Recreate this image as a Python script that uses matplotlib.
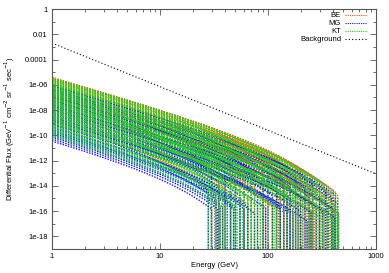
# Differential flux curves for three models plus the background power law
import numpy as np
import matplotlib.pyplot as plt
from matplotlib.ticker import FixedLocator, NullFormatter

plt.rcParams['font.family'] = ['Liberation Sans', 'DejaVu Sans']

# cut-off energy (GeV) and log10 of the flux at 1 GeV for every curve
be_mass = [150, 200, 120, 250, 90, 300, 180, 60, 350, 220,
           130, 400, 75, 280, 160, 440, 45, 240, 110, 380,
           190, 35, 320, 140, 420, 85, 260, 55, 390, 170,
           230, 100, 415, 30, 300, 65, 210, 360, 125, 40,
           270, 445, 150, 50, 330, 95, 250, 38, 395, 180,
           70, 110, 32, 140, 60]
be_lognorm = [-5.4, -5.45, -5.5, -5.5, -5.6, -5.7, -5.65, -5.8, -5.9, -5.85,
              -5.95, -6.1, -6.05, -6.15, -6.2, -6.35, -6.3, -6.4, -6.45, -6.5,
              -6.55, -6.6, -6.65, -6.7, -6.75, -6.8, -6.85, -6.9, -6.95, -7.0,
              -7.1, -7.15, -7.2, -7.25, -7.3, -7.4, -7.45, -7.5, -7.6, -7.7,
              -7.75, -7.8, -7.9, -8.0, -8.05, -8.15, -8.25, -8.35, -8.45, -8.55,
              -8.65, -8.8, -8.9, -9.0, -9.1]

mg_mass = [180, 260, 100, 340, 140, 420, 70, 220, 390, 50,
           160, 300, 120, 440, 40, 240, 360, 90, 200, 30,
           400, 150, 280, 60, 450, 110, 320, 45, 190, 415,
           80, 250, 35, 200, 130, 55, 130, 170, 160, 28,
           95, 230, 42, 55, 65, 45, 33, 60, 75, 50,
           48, 38, 36, 34, 30]
mg_lognorm = [-6.0, -6.1, -6.2, -6.3, -6.35, -6.45, -6.5, -6.6, -6.7, -6.75,
              -6.85, -6.9, -7.0, -7.05, -7.15, -7.2, -7.3, -7.35, -7.45, -7.5,
              -7.6, -7.65, -7.75, -7.8, -7.9, -7.95, -8.05, -8.1, -8.2, -8.25,
              -8.35, -8.4, -8.5, -8.55, -8.65, -8.7, -8.8, -8.85, -8.95, -9.0,
              -9.1, -9.15, -9.25, -9.3, -9.4, -9.5, -9.55, -9.65, -9.75, -9.8,
              -9.9, -10.0, -10.1, -10.25, -10.4]

kt_mass = [170, 230, 110, 280, 140, 70, 330, 200, 50, 420,
           120, 260, 90, 370, 35, 180, 445, 60, 310, 150,
           28, 400, 100, 240, 45, 350, 130, 435, 75, 210,
           38, 290, 160, 450, 55, 390, 85, 250, 30, 190,
           410, 65, 320, 115, 42, 120, 90, 80, 33, 70,
           58, 48, 52, 40, 36]
kt_lognorm = [-5.45, -5.55, -5.6, -5.7, -5.75, -5.85, -5.95, -6.0, -6.1, -6.2,
              -6.25, -6.3, -6.4, -6.45, -6.5, -6.6, -6.65, -6.7, -6.8, -6.85,
              -6.95, -7.0, -7.1, -7.15, -7.25, -7.3, -7.4, -7.45, -7.5, -7.6,
              -7.7, -7.75, -7.85, -7.9, -8.0, -8.1, -8.15, -8.25, -8.35, -8.4,
              -8.5, -8.6, -8.65, -8.75, -8.85, -8.95, -9.0, -9.1, -9.2, -9.3,
              -9.45, -9.55, -9.7, -9.85, -10.0]

spec_index = 2.5
cut_scale = 4.0

bg_norm = 2.0e-3
bg_index = 3.45

be_color = "#ff4a10"
mg_color = "#1010ff"
kt_color = "#10e010"

models = [(be_lognorm, be_mass, be_color),
          (mg_lognorm, mg_mass, mg_color),
          (kt_lognorm, kt_mass, kt_color)]

energy = np.logspace(0, 3, 500)

fig = plt.figure(figsize=(3.89, 2.73), dpi=100)
ax = fig.add_axes([0.1337, 0.0879, 0.8329, 0.8791])

dot = (0, (1, 1.0))
for lognorm, mass, col in models:
    for ln, m in zip(lognorm, mass):
        e = np.append(energy[energy < m], [m, m])
        f = 10 ** ln * e ** -spec_index * np.exp(-cut_scale * e / m)
        f[-1] = 1e-30  # spectrum ends at the cut-off: drop off the bottom
        ax.plot(e, f, color=col, lw=1.0, ls=dot)

ax.plot(energy, bg_norm * energy ** -bg_index, color='black', lw=0.8, ls=(0, (1, 2)))

ax.set_xscale('log')
ax.set_yscale('log')
ax.set_xlim(1, 1000)
ax.set_ylim(1e-19, 1)

ax.yaxis.set_major_locator(FixedLocator([10.0 ** -k for k in range(0, 19, 2)]))
ax.yaxis.set_minor_locator(FixedLocator([10.0 ** -k for k in range(1, 19, 2)]))
ax.yaxis.set_minor_formatter(NullFormatter())
ax.set_yticklabels(['1', '0.01', '0.0001'] + ['1e-%02d' % k for k in range(6, 19, 2)])
ax.set_xticks([1, 10, 100, 1000])
ax.set_xticklabels(['1', '10', '100', '1000'])
ax.xaxis.set_minor_locator(FixedLocator([d * 10.0 ** p for p in range(3) for d in range(2, 10)]))
ax.xaxis.set_minor_formatter(NullFormatter())

ax.tick_params(which='both', direction='in', top=True, right=True, labelsize=5.5,
               width=0.6, color='#555555', pad=3)
ax.tick_params(which='major', length=4)
ax.tick_params(which='minor', length=2)
for s in ax.spines.values():
    s.set_linewidth(0.8)
    s.set_color('#555555')

ax.set_xlabel('Energy (GeV)', fontsize=5.5, labelpad=1.5)
ax.set_ylabel('Differential Flux (GeV$^{-1}$ cm$^{-2}$ sr$^{-1}$ sec$^{-1}$)', fontsize=5.5, labelpad=6)

# key in the top right corner, text to the left of the sample line
keys = [("BE", be_color, dot), ("MG", mg_color, dot), ("KT", kt_color, dot),
        ("Background", "black", (0, (1, 2)))]
for i, (lab, col, ls) in enumerate(keys):
    yk = 0.975 - i * 0.0335
    ax.text(0.892, yk, lab, transform=ax.transAxes, ha='right', va='center', fontsize=5.5)
    ax.plot([0.904, 0.972], [yk, yk], transform=ax.transAxes, color=col, lw=0.8, ls=ls)

fig.savefig('out.png', dpi=100)
